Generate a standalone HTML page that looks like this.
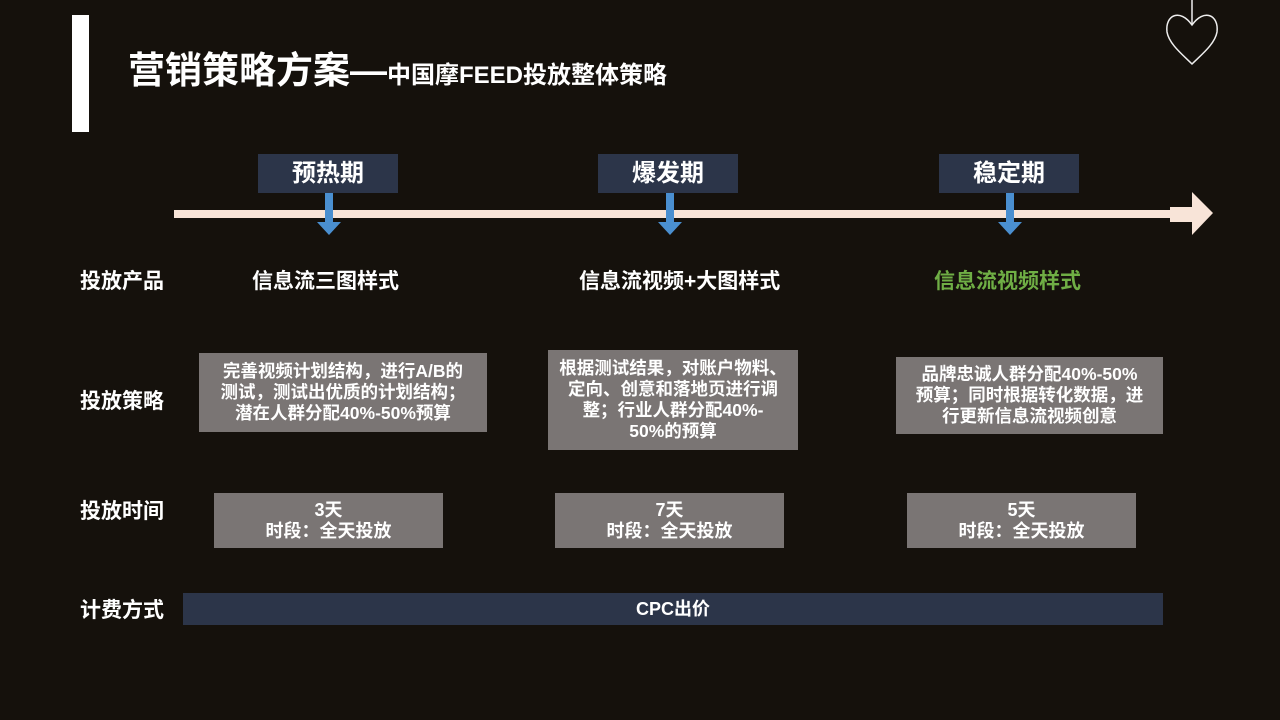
<!DOCTYPE html><html><head><meta charset="utf-8"><style>
body{margin:0;width:1280px;height:720px;background:#15110c;position:relative;overflow:hidden;font-family:"Liberation Sans","Noto Sans CJK SC",sans-serif;color:#fff;font-weight:bold}
.a{position:absolute}
.tag{position:absolute;background:#2c3549;top:154px;height:39px;width:140px;text-align:center;line-height:40px;font-size:24px}
.lab{position:absolute;left:80px;font-size:21px;line-height:24px}
.box{position:absolute;background:#7a7574;text-align:center;font-size:17.5px;line-height:21px;display:flex;align-items:center;justify-content:center}
.prod{position:absolute;top:270px;font-size:21px;line-height:24px;text-align:center}
</style></head><body>
<div class="a" style="left:72px;top:15px;width:17px;height:117px;background:#fff"></div>
<div class="a" style="left:128px;top:51px;font-size:37px;line-height:40px;white-space:nowrap">营销策略方案—<span style="font-size:24px">中国摩FEED投放整体策略</span></div>
<svg class="a" style="left:0;top:0" width="1280" height="720">
<line x1="1192" y1="0" x2="1192" y2="25" stroke="#eee" stroke-width="1.5"/>
<path d="M1192 25 C1180 8,1165 15,1167 32 C1169 44,1183 55,1192 64 C1201 55,1215 44,1217 32 C1219 15,1204 8,1192 25Z" fill="none" stroke="#eee" stroke-width="1.5"/>
<rect x="174" y="210" width="1000" height="8" fill="#f8e4d8"/>
<polygon points="1170,207 1192,207 1192,192 1213,213 1192,235 1192,222 1170,222" fill="#f8e4d8"/>
<g fill="#4a8fd0">
<rect x="325" y="193" width="8" height="29"/><polygon points="317,222 341,222 329,235"/>
<rect x="666" y="193" width="8" height="29"/><polygon points="658,222 682,222 670,235"/>
<rect x="1006" y="193" width="8" height="29"/><polygon points="998,222 1022,222 1010,235"/>
</g></svg>
<div class="tag" style="left:258px">预热期</div>
<div class="tag" style="left:598px">爆发期</div>
<div class="tag" style="left:939px">稳定期</div>
<div class="lab" style="top:270px">投放产品</div>
<div class="lab" style="top:390px">投放策略</div>
<div class="lab" style="top:500px">投放时间</div>
<div class="lab" style="top:599px">计费方式</div>
<div class="prod" style="left:252px">信息流三图样式</div>
<div class="prod" style="left:579px">信息流视频+大图样式</div>
<div class="prod" style="left:934px;color:#6fae45">信息流视频样式</div>
<div class="box" style="left:199px;top:353px;width:288px;height:79px">完善视频计划结构，进行A/B的<br>测试，测试出优质的计划结构；<br>潜在人群分配40%-50%预算</div>
<div class="box" style="left:548px;top:350px;width:250px;height:100px">根据测试结果，对账户物料、<br>定向、创意和落地页进行调<br>整；行业人群分配40%-<br>50%的预算</div>
<div class="box" style="left:896px;top:357px;width:267px;height:77px">品牌忠诚人群分配40%-50%<br>预算；同时根据转化数据，进<br>行更新信息流视频创意</div>
<div class="box" style="left:214px;top:493px;width:229px;height:55px;font-size:18px">3天<br>时段：全天投放</div>
<div class="box" style="left:555px;top:493px;width:229px;height:55px;font-size:18px">7天<br>时段：全天投放</div>
<div class="box" style="left:907px;top:493px;width:229px;height:55px;font-size:18px">5天<br>时段：全天投放</div>
<div class="box" style="left:183px;top:593px;width:980px;height:32px;background:#2c3549;font-size:18px">CPC出价</div>
</body></html>
